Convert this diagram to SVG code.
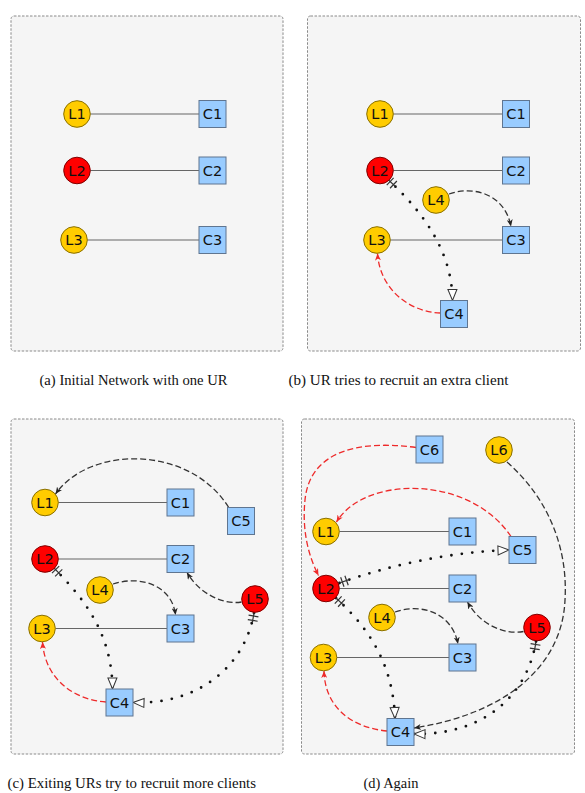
<svg xmlns="http://www.w3.org/2000/svg" width="585" height="793" viewBox="0 0 585 793">
<style>
.panel{fill:#f5f5f5;stroke:#8a8a8a;stroke-width:1;stroke-dasharray:2.5 1.5}
.ly{fill:#ffcc00;stroke:#8a7000;stroke-width:1}
.lr{fill:#ff0000;stroke:#800000;stroke-width:1}
.c{fill:#99ccff;stroke:#5f7590;stroke-width:1}
.t{font-family:"DejaVu Sans",sans-serif;font-size:14.5px;text-anchor:middle;fill:#111}
.solid{fill:none;stroke:#666;stroke-width:1.2}
.dash{fill:none;stroke:#333;stroke-width:1.3;stroke-dasharray:6 3;marker-end:url(#arr)}
.red{fill:none;stroke:#ee2a2a;stroke-width:1.3;stroke-dasharray:6 3;marker-end:url(#arrR)}
.dot{fill:none;stroke:#111;stroke-width:2.8;stroke-dasharray:0 10.5;stroke-linecap:round;marker-start:url(#tee);marker-end:url(#tri)}
.cap{font-family:"Liberation Serif",serif;font-size:14.5px;fill:#111}
</style>
<defs>
<marker id="arr" markerUnits="userSpaceOnUse" markerWidth="8" markerHeight="6" refX="7" refY="3" orient="auto"><path d="M0,0 L7,3 L0,6 L2,3 z" fill="#222"/></marker>
<marker id="arrR" markerUnits="userSpaceOnUse" markerWidth="8" markerHeight="6" refX="7" refY="3" orient="auto"><path d="M0,0 L7,3 L0,6 L2,3 z" fill="#ee2a2a"/></marker>
<marker id="tri" markerUnits="userSpaceOnUse" markerWidth="13" markerHeight="11" refX="12" refY="5.5" orient="auto"><path d="M1,1 L12,5.5 L1,10 z" fill="#fff" stroke="#333" stroke-width="1"/></marker>
<marker id="tee" markerUnits="userSpaceOnUse" markerWidth="12" markerHeight="12" refX="0" refY="6" orient="auto"><path d="M3,1 L3,11 M7.5,1 L7.5,11 M0,6 L10,6" fill="none" stroke="#333" stroke-width="1.2"/></marker>
</defs>

<g id="panels">
<rect class="panel" x="11" y="16" width="272" height="335" rx="3"/>
<rect class="panel" x="307.5" y="16" width="273" height="335" rx="3"/>
<rect class="panel" x="11" y="419" width="272" height="335" rx="3"/>
<rect class="panel" x="301.5" y="419" width="273" height="335" rx="3"/>
</g>

<g id="connectors">
<!-- (a) -->
<path class="solid" d="M90.3,114 H199"/>
<path class="solid" d="M90.3,170.5 H199"/>
<path class="solid" d="M87.3,240 H199"/>
<!-- (b) -->
<path class="solid" d="M393.3,114 H502.5"/>
<path class="solid" d="M393.3,170.5 H502.5"/>
<path class="solid" d="M390.3,240 H502.5"/>
<path class="dot" d="M388,179.5 C415,205 452,245 452.5,300.5"/>
<path class="dash" d="M449,194 C475,185 505,195 511,226.5"/>
<path class="red" d="M440.5,313 C410,312 380,290 377.5,253.5"/>
<!-- (c) -->
<path class="solid" d="M58.3,502.5 H167"/>
<path class="solid" d="M58.3,559 H167"/>
<path class="solid" d="M55.3,628.5 H167"/>
<path class="dash" d="M228.7,507.5 C190,445 90,445 55.5,494"/>
<path class="dot" d="M53.5,567.5 C80,595 112,630 112.5,689"/>
<path class="dash" d="M113,584 C140,575 172,585 175.5,615"/>
<path class="dash" d="M241.5,602 C225,605 200,595 187,572.5"/>
<path class="dot" d="M254,613 C245,665 200,705 133,702.5"/>
<path class="red" d="M106,702 C75,700 45,680 42.5,642"/>
<!-- (d) -->
<path class="solid" d="M339.3,531.5 H449"/>
<path class="solid" d="M339.3,588.5 H449"/>
<path class="solid" d="M336.8,657.5 H449"/>
<path class="red" d="M416,447.5 C360,440 310,450 305,500 C302,530 308,555 318.5,575.5"/>
<path class="red" d="M511,536.5 C470,475 365,475 336.5,522"/>
<path class="dot" d="M339.5,583 C390,565 450,552 509,550"/>
<path class="dot" d="M336,598 C365,625 393,660 395,718.5"/>
<path class="dash" d="M395,612 C420,603 452,612 458,644"/>
<path class="dash" d="M523.5,631.5 C505,635 480,625 467.5,602"/>
<path class="dash" d="M507,462 C550,500 568,550 565,600 C562,670 500,715 414,728"/>
<path class="dot" d="M536,641.5 C528,690 490,735 414,734"/>
<path class="red" d="M387,731 C355,728 325,710 324,671"/>
</g>

<g id="a-L1"><circle class="ly" cx="77" cy="114" r="13.3"/><text class="t" x="77" y="119">L1</text></g>
<g id="a-C1"><rect class="c" x="199" y="100.5" width="27" height="27"/><text class="t" x="212.5" y="119">C1</text></g>
<g id="a-L2"><circle class="lr" cx="77" cy="170.5" r="13.3"/><text class="t" x="77" y="175.5">L2</text></g>
<g id="a-C2"><rect class="c" x="199" y="157" width="27" height="27"/><text class="t" x="212.5" y="175.5">C2</text></g>
<g id="a-L3"><circle class="ly" cx="74" cy="240" r="13.3"/><text class="t" x="74" y="245">L3</text></g>
<g id="a-C3"><rect class="c" x="199" y="226.5" width="27" height="27"/><text class="t" x="212.5" y="245">C3</text></g>

<g id="b-L1"><circle class="ly" cx="380" cy="114" r="13.3"/><text class="t" x="380" y="119">L1</text></g>
<g id="b-C1"><rect class="c" x="502.5" y="100.5" width="27" height="27"/><text class="t" x="516" y="119">C1</text></g>
<g id="b-L2"><circle class="lr" cx="380" cy="170.5" r="13.3"/><text class="t" x="380" y="175.5">L2</text></g>
<g id="b-C2"><rect class="c" x="502.5" y="157" width="27" height="27"/><text class="t" x="516" y="175.5">C2</text></g>
<g id="b-L4"><circle class="ly" cx="436" cy="200" r="13.3"/><text class="t" x="436" y="205">L4</text></g>
<g id="b-L3"><circle class="ly" cx="377" cy="240" r="13.3"/><text class="t" x="377" y="245">L3</text></g>
<g id="b-C3"><rect class="c" x="502.5" y="226.5" width="27" height="27"/><text class="t" x="516" y="245">C3</text></g>
<g id="b-C4"><rect class="c" x="440.5" y="300.5" width="27" height="27"/><text class="t" x="454" y="319">C4</text></g>

<g id="c-L1"><circle class="ly" cx="45" cy="502.5" r="13.3"/><text class="t" x="45" y="507.5">L1</text></g>
<g id="c-C1"><rect class="c" x="167" y="489" width="27" height="27"/><text class="t" x="180.5" y="507.5">C1</text></g>
<g id="c-C5"><rect class="c" x="227.5" y="507.5" width="27" height="27"/><text class="t" x="241" y="526">C5</text></g>
<g id="c-L2"><circle class="lr" cx="45" cy="559" r="13.3"/><text class="t" x="45" y="564">L2</text></g>
<g id="c-C2"><rect class="c" x="167" y="545.5" width="27" height="27"/><text class="t" x="180.5" y="564">C2</text></g>
<g id="c-L4"><circle class="ly" cx="100" cy="590" r="13.3"/><text class="t" x="100" y="595">L4</text></g>
<g id="c-L5"><circle class="lr" cx="255" cy="599" r="13.3"/><text class="t" x="255" y="604">L5</text></g>
<g id="c-L3"><circle class="ly" cx="42" cy="628.5" r="13.3"/><text class="t" x="42" y="633.5">L3</text></g>
<g id="c-C3"><rect class="c" x="167" y="615" width="27" height="27"/><text class="t" x="180.5" y="633.5">C3</text></g>
<g id="c-C4"><rect class="c" x="106" y="689" width="27" height="27"/><text class="t" x="119.5" y="707.5">C4</text></g>

<g id="d-C6"><rect class="c" x="416" y="436" width="27" height="27"/><text class="t" x="429.5" y="454.5">C6</text></g>
<g id="d-L6"><circle class="ly" cx="499" cy="450" r="13.3"/><text class="t" x="499" y="455">L6</text></g>
<g id="d-L1"><circle class="ly" cx="326" cy="531.5" r="13.3"/><text class="t" x="326" y="536.5">L1</text></g>
<g id="d-C1"><rect class="c" x="449" y="518" width="27" height="27"/><text class="t" x="462.5" y="536.5">C1</text></g>
<g id="d-C5"><rect class="c" x="509" y="536.5" width="27" height="27"/><text class="t" x="522.5" y="555">C5</text></g>
<g id="d-L2"><circle class="lr" cx="326" cy="588.5" r="13.3"/><text class="t" x="326" y="593.5">L2</text></g>
<g id="d-C2"><rect class="c" x="449" y="575" width="27" height="27"/><text class="t" x="462.5" y="593.5">C2</text></g>
<g id="d-L4"><circle class="ly" cx="382" cy="617.5" r="13.3"/><text class="t" x="382" y="622.5">L4</text></g>
<g id="d-L5"><circle class="lr" cx="537" cy="627.5" r="13.3"/><text class="t" x="537" y="632.5">L5</text></g>
<g id="d-L3"><circle class="ly" cx="323.5" cy="657.5" r="13.3"/><text class="t" x="323.5" y="662.5">L3</text></g>
<g id="d-C3"><rect class="c" x="449" y="644" width="27" height="27"/><text class="t" x="462.5" y="662.5">C3</text></g>
<g id="d-C4"><rect class="c" x="387" y="718.5" width="27" height="27"/><text class="t" x="400.5" y="737">C4</text></g>

<g id="captions">
<text class="cap" x="39.5" y="384.5" textLength="188" lengthAdjust="spacingAndGlyphs">(a) Initial Network with one UR</text>
<text class="cap" x="288.5" y="384.5" textLength="220" lengthAdjust="spacingAndGlyphs">(b) UR tries to recruit an extra client</text>
<text class="cap" x="7.5" y="787.5" textLength="248.5" lengthAdjust="spacingAndGlyphs">(c) Exiting URs try to recruit more clients</text>
<text class="cap" x="363.5" y="787.5" textLength="55" lengthAdjust="spacingAndGlyphs">(d) Again</text>
</g>
</svg>
